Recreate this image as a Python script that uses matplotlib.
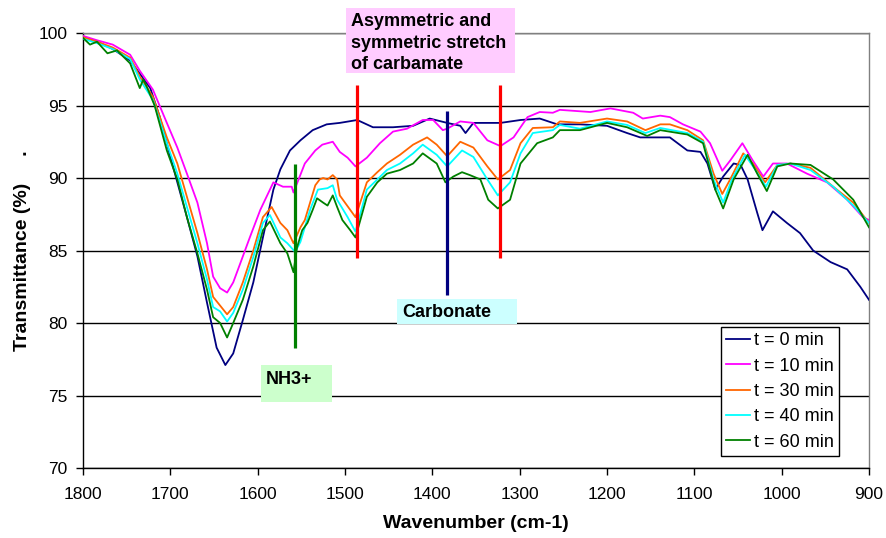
import matplotlib
matplotlib.use("Agg")
import matplotlib.pyplot as plt
from matplotlib.patches import Rectangle

plt.rcParams['font.family'] = ['Liberation Sans', 'DejaVu Sans']

# ---------------- data ----------------
wn_0 = [1800, 1784, 1766, 1746, 1735, 1723, 1712, 1697, 1681, 1669, 1658, 1647, 1637, 1628,
        1617, 1605, 1594, 1582, 1574, 1563, 1551, 1537, 1521, 1506, 1486, 1468, 1445, 1422,
        1403, 1383, 1368, 1362, 1353, 1322, 1299, 1277, 1257, 1231, 1200, 1177, 1162, 1128,
        1108, 1093, 1085, 1076, 1067, 1055, 1047, 1039, 1028, 1022, 1010, 994, 979, 964, 944,
        925, 910, 900]
t_0 = [99.7, 99.4, 98.9, 98.1, 97.2, 96.2, 94.2, 90.8, 87.3, 84.6, 81.4, 78.3, 77.1, 77.9,
       80.2, 82.8, 85.9, 89.2, 90.6, 91.9, 92.6, 93.3, 93.7, 93.8, 94.0, 93.5, 93.5, 93.6,
       94.1, 93.8, 93.6, 93.1, 93.8, 93.8, 94.0, 94.1, 93.7, 93.7, 93.6, 93.1, 92.8, 92.8,
       91.9, 91.8, 91.0, 89.2, 90.1, 91.0, 90.9, 89.9, 87.6, 86.4, 87.7, 86.9, 86.2, 85.0, 84.2,
       83.7, 82.5, 81.6]

wn_10 = [1800, 1784, 1766, 1746, 1735, 1720, 1704, 1692, 1681, 1669, 1658, 1651, 1643, 1635,
         1628, 1620, 1609, 1597, 1582, 1571, 1561, 1559, 1546, 1534, 1526, 1514, 1506, 1497,
         1488, 1475, 1460, 1445, 1429, 1411, 1399, 1388, 1383, 1368, 1353, 1337, 1322, 1307,
         1291, 1277, 1262, 1254, 1219, 1196, 1170, 1159, 1139, 1128, 1113, 1093, 1082, 1068,
         1059, 1045, 1033, 1021, 1010, 994, 971, 948, 925, 907, 900]
t_10 = [99.8, 99.5, 99.2, 98.5, 97.4, 96.1, 93.8, 92.1, 90.3, 88.3, 85.5, 83.2, 82.4, 82.1,
        82.8, 84.1, 85.9, 87.8, 89.7, 89.4, 89.4, 89.0, 91.0, 91.9, 92.3, 92.5, 91.8, 91.4,
        90.8, 91.4, 92.4, 93.2, 93.4, 94.0, 94.0, 93.3, 93.4, 93.9, 93.8, 92.6, 92.2, 92.8,
        94.2, 94.55, 94.5, 94.7, 94.55, 94.8, 94.5, 94.1, 94.3, 94.2, 93.7, 93.2, 92.4, 90.5,
        91.2, 92.4, 91.2, 90.1, 91.0, 91.0, 90.3, 89.7, 88.5, 87.3, 87.1]

wn_30 = [1800, 1784, 1766, 1746, 1735, 1720, 1704, 1692, 1681, 1669, 1658, 1651, 1643, 1635,
         1628, 1617, 1605, 1594, 1584, 1574, 1566, 1559, 1551, 1546, 1540, 1534, 1529, 1525,
         1520, 1514, 1509, 1506, 1500, 1494, 1488, 1475, 1463, 1452, 1437, 1422, 1406, 1395,
         1383, 1368, 1353, 1337, 1325, 1311, 1299, 1285, 1262, 1254, 1231, 1200, 1177, 1156,
         1139, 1128, 1108, 1090, 1078, 1068, 1059, 1044, 1033, 1019, 1005, 990, 967, 941, 918,
         900]
t_30 = [99.7, 99.4, 99.0, 98.3, 97.0, 95.6, 92.8, 91.0, 88.7, 86.2, 83.7, 81.8, 81.2, 80.6,
        81.1, 82.8, 85.0, 87.3, 88.0, 86.9, 86.4, 85.5, 86.6, 87.1, 88.3, 89.5, 89.9, 90.0,
        89.9, 90.2, 89.9, 88.8, 88.3, 87.8, 87.3, 89.7, 90.4, 91.0, 91.6, 92.3, 92.8, 92.3,
        91.5, 92.5, 92.1, 90.8, 89.9, 90.55, 92.4, 93.45, 93.5, 93.9, 93.8, 94.1, 93.9, 93.3,
        93.7, 93.7, 93.3, 92.6, 90.3, 88.9, 89.9, 91.7, 91.0, 89.7, 90.9, 91.0, 90.7, 89.4,
        88.3, 86.9]

wn_40 = [1800, 1784, 1766, 1746, 1735, 1720, 1704, 1692, 1681, 1669, 1658, 1651, 1643, 1635,
         1628, 1617, 1605, 1594, 1586, 1574, 1566, 1557, 1551, 1540, 1531, 1520, 1514, 1509,
         1497, 1488, 1475, 1463, 1452, 1437, 1422, 1411, 1395, 1383, 1366, 1353, 1337, 1325,
         1311, 1299, 1285, 1262, 1254, 1231, 1200, 1177, 1156, 1139, 1108, 1090, 1078, 1067,
         1057, 1042, 1030, 1018, 1005, 990, 967, 941, 918, 900]
t_40 = [99.6, 99.3, 98.9, 98.2, 96.8, 95.4, 92.4, 90.3, 88.0, 85.5, 83.0, 81.1, 80.8, 80.1,
        80.7, 82.3, 84.55, 86.9, 87.45, 85.9, 85.5, 84.9, 85.6, 87.8, 89.2, 89.3, 89.5, 88.5,
        87.3, 86.3, 89.2, 89.9, 90.55, 91.0, 91.7, 92.3, 91.6, 90.8, 91.9, 91.45, 89.9, 88.8,
        89.7, 91.7, 93.1, 93.3, 93.66, 93.4, 93.9, 93.66, 93.1, 93.45, 93.1, 92.5, 89.9, 88.3,
        89.9, 91.6, 90.55, 89.4, 90.9, 91.0, 90.55, 89.4, 88.1, 86.9]

wn_60 = [1800, 1792, 1784, 1772, 1761, 1746, 1735, 1731, 1727, 1718, 1704, 1692, 1681, 1669,
         1658, 1651, 1643, 1635, 1628, 1617, 1605, 1594, 1586, 1574, 1566, 1559, 1555, 1549,
         1543, 1537, 1532, 1525, 1520, 1514, 1509, 1503, 1494, 1488, 1475, 1463, 1452, 1437,
         1422, 1411, 1395, 1385, 1376, 1366, 1357, 1345, 1336, 1325, 1311, 1299, 1280, 1262,
         1254, 1231, 1200, 1177, 1154, 1139, 1108, 1090, 1076, 1067, 1055, 1039, 1028, 1017,
         1005, 990, 967, 941, 918, 900]
t_60 = [99.66, 99.2, 99.4, 98.6, 98.8, 97.9, 96.2, 96.8, 96.3, 95.0, 91.9, 89.9, 87.3, 84.8,
        82.3, 80.4, 80.0, 79.0, 80.0, 81.6, 83.9, 86.4, 87.0, 85.5, 84.8, 83.5, 85.2, 86.4,
        86.9, 87.8, 88.6, 88.3, 88.1, 88.8, 88.0, 87.1, 86.4, 85.9, 88.7, 89.7, 90.3, 90.55,
        91.0, 91.7, 91.0, 89.7, 90.1, 90.4, 90.2, 89.9, 88.5, 87.9, 88.5, 91.0, 92.4, 92.8,
        93.3, 93.3, 93.8, 93.5, 92.9, 93.3, 93.0, 92.4, 89.2, 87.9, 89.9, 91.6, 90.3, 89.1,
        90.8, 91.0, 90.9, 89.9, 88.5, 86.6]

series_labels = ["t = 0 min", "t = 10 min", "t = 30 min", "t = 40 min", "t = 60 min"]
series_colors = ["#000080", "#FF00FF", "#FF6600", "#00FFFF", "#008000"]

# annotation bars (wavenumber, top, bottom)
marker_wn = [1557, 1486, 1383, 1322]
marker_top = [91.0, 96.4, 94.6, 96.4]
marker_bottom = [78.3, 84.5, 81.9, 84.5]
marker_colors = ["#008000", "#FF0000", "#000080", "#FF0000"]

x_ticks = [1800, 1700, 1600, 1500, 1400, 1300, 1200, 1100, 1000, 900]
y_ticks = [70, 75, 80, 85, 90, 95, 100]

# ---------------- figure ----------------
W, H = 887, 538
fig = plt.figure(figsize=(W / 100, H / 100), dpi=100)
fig.patch.set_facecolor("white")


def fx(px):
    return px / W


def fy(py):
    return 1 - py / H


ax = fig.add_axes([fx(83), fy(468), fx(869) - fx(83), fy(33) - fy(468)])

for wn, tv, lab, col in zip([wn_0, wn_10, wn_30, wn_40, wn_60],
                            [t_0, t_10, t_30, t_40, t_60],
                            series_labels, series_colors):
    ax.plot(wn, tv, color=col, lw=1.3, label=lab, zorder=3)

for xw, yt, yb, c in zip(marker_wn, marker_top, marker_bottom, marker_colors):
    ax.plot([xw, xw], [yb, yt], color=c, lw=2.3, zorder=4, solid_capstyle="butt")

ax.set_xlim(1800, 900)
ax.set_ylim(70, 100)
ax.set_xticks(x_ticks)
ax.set_yticks(y_ticks)
ax.tick_params(axis="both", direction="out", length=5, width=1, color="black",
               labelsize=12.5, labelcolor="black")
ax.tick_params(axis="x", pad=9)
ax.tick_params(axis="y", pad=6)
ax.yaxis.grid(True, color="black", lw=1)
ax.set_axisbelow(True)
for s in ["top", "right"]:
    ax.spines[s].set_color("#808080")
    ax.spines[s].set_linewidth(1)
for s in ["left", "bottom"]:
    ax.spines[s].set_color("black")
    ax.spines[s].set_linewidth(1)

ax.set_xlabel("Wavenumber (cm-1)", fontsize=14, fontweight="bold")
ax.xaxis.set_label_coords(0.5, -0.108)
ax.set_ylabel("Transmittance (%)     .", fontsize=14, fontweight="bold")
ax.yaxis.set_label_coords(-0.066, 0.5)

leg = ax.legend(loc="lower right", bbox_to_anchor=(fx(839), fy(456)),
                bbox_transform=fig.transFigure, borderaxespad=0, fontsize=13,
                frameon=True, fancybox=False, shadow=False, handlelength=1.3,
                handletextpad=0.22, labelspacing=0.46, borderpad=0.3,
                framealpha=1, edgecolor="black")
leg.get_frame().set_linewidth(1)
for h in leg.get_lines():
    h.set_linewidth(1.3)

# ---------------- annotation boxes ----------------
boxes = [
    (346, 8, 515, 73, "#FFCCFF", "Asymmetric and\nsymmetric stretch\nof carbamate", 351, 13, 1.36),
    (397, 299, 517, 324, "#CCFFFF", "Carbonate", 402, 304, 1.2),
    (261, 365, 332, 402, "#CCFFCC", "NH3+", 266, 371, 1.2),
]
for x0, y0, x1, y1, col, txt, tx, ty, ls in boxes:
    fig.patches.append(Rectangle((fx(x0), fy(y1)), fx(x1) - fx(x0), fy(y0) - fy(y1),
                                 transform=fig.transFigure, facecolor=col,
                                 edgecolor="none", zorder=5))
    fig.text(fx(tx), fy(ty), txt, ha="left", va="top", fontsize=13,
             fontweight="bold", linespacing=ls, zorder=6)

fig.savefig("out.png", dpi=100, facecolor="white")
